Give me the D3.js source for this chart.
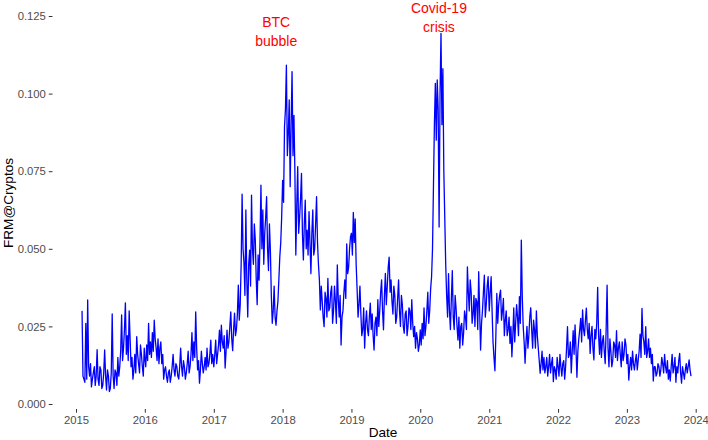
<!DOCTYPE html>
<html><head><meta charset="utf-8">
<script src="https://cdn.jsdelivr.net/npm/d3@7/dist/d3.min.js"></script>
<style>body{margin:0;background:#fff}svg{display:block}</style>
</head><body>
<svg id="chart" width="708" height="440"></svg>
<script>
// ---- data: FRM@Cryptos, readings every 10 days (frmYYYY) plus the readings
// 5 days later (frmYYYYmid), grouped by year ----
const firstDayOffset2015 = 32; // series starts early February 2015
const frm2015 = [0.030,0.008,0.026,0.0335,0.009,0.0055,0.010,0.006,0.0175,0.006,0.011,0.006,0.0174,0.0045,0.009,0.005,0.029,0.005,0.010,0.015,0.012,0.0287,0.018,0.0326,0.022,0.030,0.012,0.008,0.016,0.0217,0.013,0.019,0.012,0.018];
const frm2015mid = [0.009,0.007,0.008,0.012,0.013,0.008,0.012,0.009,0.008,0.012,0.005,0.010,0.009,0.011,0.004,0.010,0.009,0.011,0.006,0.009,0.017,0.014,0.024,0.016,0.014,0.021,0.015,0.011,0.010,0.016,0.010,0.016,0.009];
const frm2016 = [0.015,0.019,0.026,0.020,0.023,0.027,0.018,0.021,0.018,0.013,0.008,0.012,0.007,0.011,0.009,0.016,0.009,0.012,0.008,0.018,0.009,0.012,0.010,0.017,0.012,0.023,0.020,0.0297,0.011,0.0067,0.017,0.010,0.015,0.018,0.013,0.0206,0.016];
const frm2016mid = [0.012,0.014,0.016,0.015,0.017,0.021,0.014,0.013,0.020,0.016,0.011,0.009,0.010,0.007,0.012,0.011,0.013,0.009,0.012,0.012,0.014,0.008,0.013,0.010,0.016,0.014,0.015,0.018,0.014,0.011,0.013,0.012,0.011,0.012,0.016,0.013];
const frm2017 = [0.012,0.0206,0.016,0.0238,0.0254,0.018,0.0116,0.0238,0.020,0.0297,0.0172,0.0293,0.024,0.0383,0.032,0.0676,0.0454,0.0625,0.028,0.0496,0.0673,0.045,0.0528,0.032,0.0399,0.0705,0.0625,0.0549,0.0668,0.043,0.0496,0.026,0.038,0.0254,0.033,0.0474,0.0603];
const frm2017mid = [0.016,0.013,0.019,0.017,0.020,0.022,0.017,0.018,0.025,0.021,0.024,0.022,0.029,0.027,0.045,0.050,0.035,0.040,0.045,0.038,0.050,0.058,0.040,0.048,0.052,0.050,0.045,0.060,0.050,0.058,0.035,0.030,0.028,0.030,0.040,0.052];
const frm2018 = [0.072,0.0893,0.1092,0.087,0.070,0.1071,0.093,0.048,0.0765,0.060,0.0743,0.0464,0.0657,0.056,0.062,0.042,0.0625,0.050,0.0668,0.045,0.0303,0.033,0.0249,0.034,0.0405,0.031,0.038,0.030,0.033,0.0448,0.028,0.019,0.030,0.040,0.0516,0.044,0.0538];
const frm2018mid = [0.065,0.095,0.080,0.098,0.090,0.080,0.075,0.064,0.055,0.066,0.055,0.058,0.050,0.048,0.052,0.055,0.048,0.058,0.052,0.040,0.038,0.028,0.036,0.028,0.030,0.036,0.026,0.038,0.026,0.034,0.035,0.028,0.036,0.034,0.042,0.050];
const frm2019 = [0.055,0.0617,0.0596,0.037,0.032,0.029,0.024,0.018,0.030,0.022,0.0325,0.029,0.0174,0.028,0.0336,0.030,0.040,0.0239,0.0421,0.038,0.0473,0.040,0.029,0.035,0.028,0.040,0.025,0.032,0.0228,0.030,0.025,0.030,0.0336,0.0217,0.018,0.021,0.019];
const frm2019mid = [0.048,0.052,0.045,0.028,0.038,0.022,0.031,0.026,0.024,0.028,0.024,0.022,0.026,0.022,0.025,0.036,0.030,0.035,0.032,0.044,0.036,0.033,0.038,0.026,0.034,0.030,0.035,0.025,0.029,0.022,0.031,0.024,0.026,0.025,0.023,0.017];
const frm2020 = [0.0239,0.026,0.031,0.025,0.036,0.030,0.041,0.070,0.1033,0.1044,0.057,0.1194,0.108,0.060,0.035,0.042,0.024,0.043,0.024,0.0308,0.0206,0.018,0.026,0.023,0.028,0.0442,0.030,0.036,0.029,0.025,0.033,0.0426,0.0174,0.030,0.0415,0.032,0.041];
const frm2020mid = [0.019,0.021,0.022,0.030,0.026,0.037,0.050,0.090,0.085,0.095,0.100,0.090,0.075,0.045,0.028,0.030,0.034,0.028,0.035,0.025,0.028,0.025,0.019,0.030,0.024,0.036,0.040,0.026,0.035,0.034,0.024,0.030,0.026,0.036,0.028,0.038];
const frm2021 = [0.030,0.041,0.020,0.0107,0.0356,0.032,0.0367,0.030,0.022,0.030,0.024,0.0195,0.0152,0.031,0.026,0.028,0.0346,0.0528,0.025,0.0131,0.025,0.022,0.031,0.018,0.024,0.030,0.018,0.0099,0.017,0.015,0.012,0.009,0.016,0.013,0.0072,0.011,0.015];
const frm2021mid = [0.036,0.030,0.015,0.022,0.026,0.035,0.027,0.034,0.027,0.022,0.028,0.025,0.022,0.020,0.032,0.022,0.026,0.035,0.020,0.020,0.018,0.028,0.024,0.027,0.018,0.022,0.014,0.013,0.011,0.010,0.015,0.012,0.010,0.015,0.012,0.008];
const frm2022 = [0.012,0.016,0.009,0.014,0.012,0.0249,0.016,0.010,0.0236,0.0255,0.0086,0.021,0.0276,0.0303,0.022,0.0309,0.021,0.0163,0.025,0.0142,0.021,0.0376,0.016,0.015,0.022,0.013,0.0383,0.012,0.017,0.014,0.019,0.0236,0.018,0.016,0.020,0.016,0.019];
const frm2022mid = [0.009,0.012,0.013,0.008,0.018,0.015,0.020,0.017,0.016,0.018,0.017,0.024,0.020,0.024,0.027,0.024,0.026,0.022,0.018,0.024,0.026,0.022,0.024,0.020,0.017,0.024,0.018,0.021,0.012,0.020,0.015,0.014,0.020,0.012,0.014,0.021];
const frm2023 = [0.013,0.0077,0.015,0.017,0.011,0.016,0.014,0.0225,0.0308,0.020,0.0249,0.017,0.015,0.013,0.0074,0.012,0.010,0.012,0.011,0.013,0.016,0.010,0.008,0.0074,0.016,0.012,0.007,0.010,0.0163,0.0067,0.010,0.011,0.010,0.0142,0.009];
const frm2023mid = [0.016,0.012,0.011,0.013,0.014,0.011,0.017,0.015,0.022,0.016,0.015,0.021,0.018,0.016,0.012,0.009,0.013,0.009,0.015,0.010,0.012,0.014,0.011,0.012,0.010,0.015,0.012,0.014,0.010,0.012,0.008,0.013,0.012,0.011];

const yearSeries = [
  [2015, frm2015, frm2015mid], [2016, frm2016, frm2016mid], [2017, frm2017, frm2017mid],
  [2018, frm2018, frm2018mid], [2019, frm2019, frm2019mid], [2020, frm2020, frm2020mid],
  [2021, frm2021, frm2021mid], [2022, frm2022, frm2022mid], [2023, frm2023, frm2023mid]
];

const yTickValues = [0, 0.025, 0.05, 0.075, 0.1, 0.125];
const xTickYears = [2015, 2016, 2017, 2018, 2019, 2020, 2021, 2022, 2023, 2024];

const annoLabels = [["BTC", "bubble"], ["Covid-19", "crisis"]];
const annoDates = ["2017-11-28", "2020-04-09"];
const annoValues = [0.1215, 0.1259];

// ---- build records ----
const data = [];
yearSeries.forEach(([yr, vals, mids]) => {
  const off = yr === 2015 ? firstDayOffset2015 : 0;
  vals.forEach((v, i) => {
    data.push({ date: new Date(Date.UTC(yr, 0, 1 + off + i * 10)), value: v });
    if (i < mids.length) {
      data.push({ date: new Date(Date.UTC(yr, 0, 1 + off + i * 10 + 5)), value: mids[i] });
    }
  });
});

// ---- layout ----
const svg = d3.select("#chart");
const font = "'Liberation Sans', Arial, Helvetica, sans-serif";
const panelLeft = 52.5, panelBottom = 409;

const x = d3.scaleUtc()
  .domain([new Date(Date.UTC(2015, 0, 1)), new Date(Date.UTC(2024, 0, 1))])
  .range([76, 695.7]);
const y = d3.scaleLinear().domain([0, 0.125]).range([404, 16]);

// y axis
const yAxis = d3.axisLeft(y).tickValues(yTickValues)
  .tickFormat(d3.format(".3f")).tickSize(3.7).tickPadding(2.9);
const gy = svg.append("g").attr("transform", `translate(${panelLeft},0)`).call(yAxis);
gy.select(".domain").remove();
gy.selectAll(".tick line").attr("stroke", "#333333").attr("stroke-width", 1);
gy.selectAll(".tick text").attr("fill", "#4D4D4D").style("font-family", font).style("font-size", "11.3px");

// x axis
const xAxis = d3.axisBottom(x)
  .tickValues(xTickYears.map(yr => new Date(Date.UTC(yr, 0, 1))))
  .tickFormat(d3.utcFormat("%Y")).tickSize(3.7).tickPadding(2.9);
const gx = svg.append("g").attr("transform", `translate(0,${panelBottom})`).call(xAxis);
gx.select(".domain").remove();
gx.selectAll(".tick line").attr("stroke", "#333333").attr("stroke-width", 1);
gx.selectAll(".tick text").attr("fill", "#4D4D4D").style("font-family", font).style("font-size", "11.3px");

// axis titles
svg.append("text").attr("x", 383).attr("y", 437).attr("text-anchor", "middle")
  .style("font-family", font).style("font-size", "13.6px").attr("fill", "#000").text("Date");
svg.append("text").attr("transform", "translate(12.5,203) rotate(-90)").attr("text-anchor", "middle")
  .style("font-family", font).style("font-size", "13.6px").attr("fill", "#000").text("FRM@Cryptos");

// line
const line = d3.line().x(d => x(d.date)).y(d => y(d.value));
svg.append("path").datum(data).attr("d", line)
  .attr("fill", "none").attr("stroke", "#0000FF").attr("stroke-width", 1.3)
  .attr("stroke-linejoin", "round");

// annotations
annoLabels.forEach((lines, i) => {
  const ax = x(new Date(annoDates[i] + "T00:00:00Z"));
  const t = svg.append("text")
    .attr("x", ax).attr("y", y(annoValues[i]))
    .attr("text-anchor", "middle").attr("fill", "#FF0000")
    .style("font-family", font).style("font-size", "14px");
  lines.forEach((s, j) => {
    t.append("tspan").attr("x", ax).attr("dy", j === 0 ? 0 : 19).text(s);
  });
});
</script>
</body></html>
